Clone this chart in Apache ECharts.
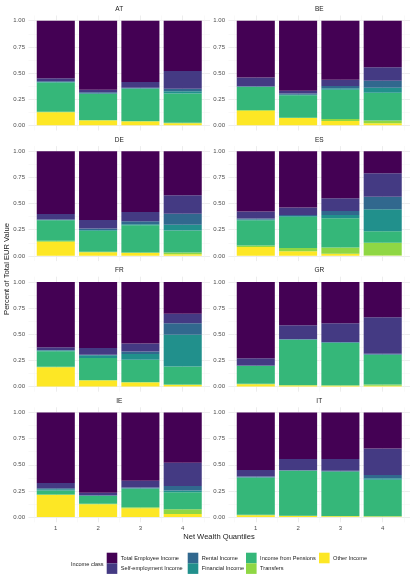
<!DOCTYPE html>
<html><head><meta charset="utf-8">
<script src="https://cdn.jsdelivr.net/npm/echarts@6/dist/echarts.min.js"></script>
<style>html,body{margin:0;padding:0;background:#fff}#c{width:413px;height:584px}</style>
</head><body><div id="c"></div>
<script>
// ---- data ----
const quantiles = ['1', '2', '3', '4'];
const majorBreaksX = [1, 2, 3, 4];
const minorBreaksX = [0.5, 1.5, 2.5, 3.5, 4.5];
const countries = ['AT', 'BE', 'DE', 'ES', 'FR', 'GR', 'IE', 'IT'];
const incomeClasses = ['Total Employee Income', 'Self-employment Income', 'Rental Income', 'Financial Income', 'Income from Pensions', 'Transfers', 'Other Income'];
const classColors = ['#440154', '#443A83', '#31688E', '#21908C', '#35B779', '#8FD744', '#FDE725'];
const yTicks = [0, 0.25, 0.5, 0.75, 1];
const yMinorTicks = [0.125, 0.375, 0.625, 0.875];

// rows follow countries order; columns are quantiles 1..4
const employeeIncome = [
  [0.55, 0.66, 0.585, 0.48], [0.542, 0.67, 0.565, 0.445], [0.60, 0.657, 0.58, 0.42], [0.575, 0.538, 0.45, 0.21],
  [0.625, 0.632, 0.59, 0.305], [0.73, 0.415, 0.395, 0.338], [0.675, 0.767, 0.653, 0.48], [0.55, 0.444, 0.444, 0.343]];
const selfEmploymentIncome = [
  [0.03, 0.025, 0.055, 0.17], [0.085, 0.027, 0.06, 0.13], [0.052, 0.08, 0.09, 0.178], [0.067, 0.07, 0.12, 0.225],
  [0.027, 0.065, 0.075, 0.09], [0.07, 0.13, 0.18, 0.35], [0.05, 0.025, 0.064, 0.222], [0.062, 0.108, 0.114, 0.255]];
const rentalIncome = [
  [0.005, 0.01, 0.005, 0.025], [0.005, 0.01, 0.02, 0.065], [0.005, 0.015, 0.027, 0.105], [0.01, 0.01, 0.04, 0.12],
  [0.005, 0.005, 0.025, 0.11], [0.003, 0.005, 0.005, 0.007], [0.01, 0.003, 0.008, 0.045], [0.008, 0.003, 0.005, 0.03]];
const financialIncome = [
  [0.005, 0.005, 0.005, 0.02], [0.003, 0.005, 0.015, 0.05], [0.003, 0.008, 0.01, 0.055], [0.008, 0.007, 0.03, 0.21],
  [0.005, 0.025, 0.055, 0.305], [0.002, 0.002, 0.003, 0.005], [0.01, 0.003, 0.005, 0.015], [0.003, 0.002, 0.002, 0.015]];
const pensionIncome = [
  [0.28, 0.25, 0.31, 0.28], [0.22, 0.215, 0.28, 0.265], [0.195, 0.2, 0.26, 0.21], [0.24, 0.3, 0.28, 0.11],
  [0.15, 0.21, 0.213, 0.172], [0.17, 0.435, 0.405, 0.28], [0.04, 0.075, 0.175, 0.163], [0.355, 0.43, 0.425, 0.35]];
const transfers = [
  [0.005, 0.005, 0.005, 0.005], [0.005, 0.003, 0.02, 0.025], [0.01, 0.005, 0.005, 0.017], [0.015, 0.03, 0.06, 0.122],
  [0.003, 0.005, 0.005, 0.003], [0.003, 0.003, 0.004, 0.012], [0.005, 0.005, 0.01, 0.045], [0.004, 0.003, 0.002, 0.002]];
const otherIncome = [
  [0.125, 0.045, 0.035, 0.02], [0.14, 0.07, 0.04, 0.02], [0.135, 0.035, 0.028, 0.015], [0.085, 0.045, 0.02, 0.003],
  [0.185, 0.058, 0.037, 0.015], [0.022, 0.01, 0.008, 0.008], [0.21, 0.122, 0.085, 0.03], [0.018, 0.01, 0.008, 0.005]];

const classValues = [employeeIncome, selfEmploymentIncome, rentalIncome, financialIncome, pensionIncome, transfers, otherIncome];

// ---- layout ----
const FONT = 'Liberation Sans';
const X_MIN = 0.355, X_MAX = 4.645;
const colLeft = [28.5, 228.5];
const panelW = 181.5;
const rowTop = [15.5, 146.1, 276.7, 407.3];
const panelH = 115;
const unitPx = panelW / (X_MAX - X_MIN);

const grid = [], xAxis = [], yAxis = [], series = [], graphic = [];

countries.forEach((ct, i) => {
  const col = i % 2, row = Math.floor(i / 2);
  const gBg = 2 * i, gBar = 2 * i + 1;
  // background panel (gridlines + y labels)
  grid.push({ left: colLeft[col], top: rowTop[row], width: panelW, height: panelH, containLabel: false });
  // bar area: category bands from 0.5 to 4.5
  grid.push({ left: colLeft[col] + (0.5 - X_MIN) * unitPx, top: rowTop[row], width: 4 * unitPx, height: panelH, containLabel: false });

  xAxis.push({
    gridIndex: gBg, type: 'value', min: X_MIN, max: X_MAX,
    axisLine: { show: false },
    axisTick: { show: false, customValues: majorBreaksX },
    axisLabel: { show: false, customValues: majorBreaksX },
    splitLine: { show: true, lineStyle: { color: '#EBEBEB', width: 0.9 } }
  });
  xAxis.push({
    gridIndex: gBg, type: 'value', min: X_MIN, max: X_MAX, position: 'top',
    axisLine: { show: false },
    axisTick: { show: false, customValues: minorBreaksX },
    axisLabel: { show: false },
    splitLine: { show: true, lineStyle: { color: '#F3F3F3', width: 0.5 } }
  });
  xAxis.push({
    gridIndex: gBar, type: 'category', data: quantiles, boundaryGap: true,
    axisLine: { show: false }, axisTick: { show: false }, splitLine: { show: false },
    axisLabel: { show: row === 3, fontSize: 6, color: '#4D4D4D', margin: 3, fontFamily: FONT }
  });

  yAxis.push({
    gridIndex: gBg, type: 'value', min: -0.05, max: 1.05,
    axisLine: { show: false },
    axisTick: { show: false, customValues: yTicks },
    axisLabel: { show: true, customValues: yTicks, fontSize: 6, color: '#4D4D4D', margin: 3.5, fontFamily: FONT,
      formatter: v => v.toFixed(2) },
    splitLine: { show: true, lineStyle: { color: '#EBEBEB', width: 0.9 } }
  });
  yAxis.push({
    gridIndex: gBg, type: 'value', min: -0.05, max: 1.05, position: 'right',
    axisLine: { show: false },
    axisTick: { show: false, customValues: yMinorTicks },
    axisLabel: { show: false },
    splitLine: { show: true, lineStyle: { color: '#F3F3F3', width: 0.5 } }
  });
  yAxis.push({
    gridIndex: gBar, type: 'value', min: -0.05, max: 1.05,
    axisLine: { show: false }, axisTick: { show: false }, axisLabel: { show: false }, splitLine: { show: false }
  });

  // stack bottom -> top: Other, Transfers, Pensions, Financial, Rental, Self-employment, Employee
  for (let k = incomeClasses.length - 1; k >= 0; k--) {
    series.push({
      type: 'bar', name: incomeClasses[k], stack: ct,
      xAxisIndex: 3 * i + 2, yAxisIndex: 3 * i + 2,
      barWidth: '90%',
      itemStyle: { color: classColors[k] },
      emphasis: { disabled: true },
      data: classValues[k][i]
    });
  }
  graphic.push({
    type: 'text', x: colLeft[col] + panelW / 2, y: rowTop[row] - 6,
    style: { text: ct, fontSize: 6.5, fill: '#1A1A1A', fontFamily: FONT, align: 'center', verticalAlign: 'middle' }
  });
});

graphic.push({
  type: 'text', x: 7, y: 269, rotation: Math.PI / 2,
  style: { text: 'Percent of Total EUR Value', fontSize: 7.6, fill: '#1A1A1A', fontFamily: FONT, align: 'center', verticalAlign: 'middle' }
});
graphic.push({
  type: 'text', x: 219, y: 537,
  style: { text: 'Net Wealth Quantiles', fontSize: 7.6, fill: '#1A1A1A', fontFamily: FONT, align: 'center', verticalAlign: 'middle' }
});
graphic.push({
  type: 'text', x: 71, y: 564,
  style: { text: 'Income class', fontSize: 5.6, fill: '#1A1A1A', fontFamily: FONT, align: 'left', verticalAlign: 'middle' }
});

const legendCols = [
  { left: 106.7, names: [incomeClasses[0], incomeClasses[1]] },
  { left: 187.7, names: [incomeClasses[2], incomeClasses[3]] },
  { left: 246, names: [incomeClasses[4], incomeClasses[5]] },
  { left: 319, names: [incomeClasses[6]] }
];
const legend = legendCols.map(c => ({
  left: c.left, top: 552.7, orient: 'vertical', padding: 0, itemGap: 0,
  itemWidth: 10.6, itemHeight: 10.6, icon: 'rect', selectedMode: false,
  textStyle: { fontSize: 5.6, color: '#1A1A1A', fontFamily: FONT, padding: [0, 0, 0, -1.5] },
  data: c.names
}));

const chart = echarts.init(document.getElementById('c'));
chart.setOption({
  backgroundColor: '#ffffff',
  animation: false,
  textStyle: { fontFamily: FONT },
  grid, xAxis, yAxis, series, legend, graphic
});
</script></body></html>
